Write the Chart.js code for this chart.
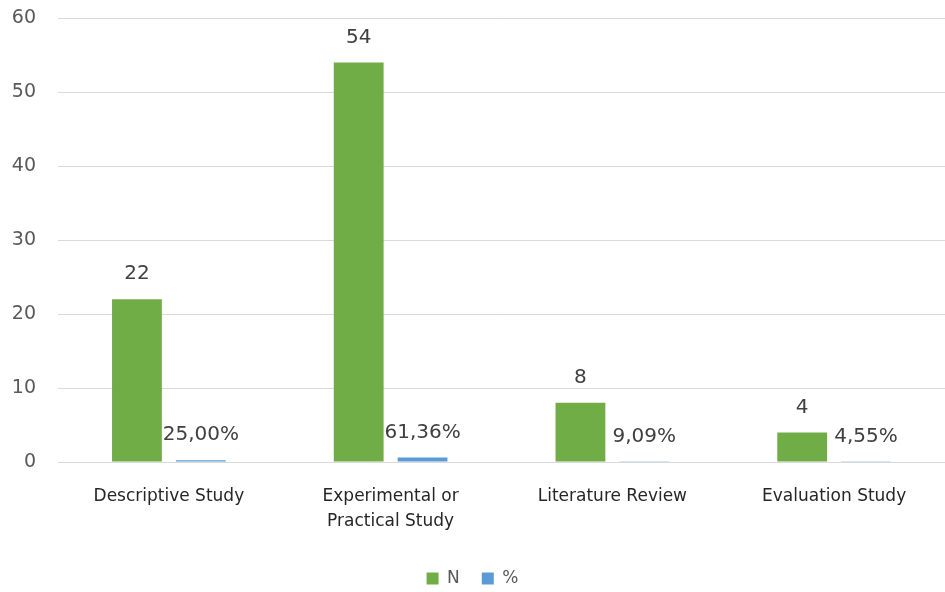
<!DOCTYPE html>
<html>
<head>
<meta charset="utf-8">
<script src="https://cdn.jsdelivr.net/npm/chart.js@4"></script>
<style>
  html, body { margin: 0; padding: 0; background: #fff; }
  #wrap { width: 945px; height: 592px; }
</style>
</head>
<body>
<div id="wrap"><canvas id="studyChart" width="945" height="592"></canvas></div>
<script>
const categories = [['Descriptive Study'], ['Experimental or', 'Practical Study'], ['Literature Review'], ['Evaluation Study']];
const countValues = [22, 54, 8, 4];
const shareValues = [0.25, 0.6136, 0.0909, 0.0455];
const yTicks = [0, 10, 20, 30, 40, 50, 60];

const fmtShare = v => (v * 100).toFixed(2).replace('.', ',') + '%';
const FONT = '"DejaVu Sans", sans-serif';

// draws value labels above each bar
const barLabels = {
    id: 'barLabels',
    afterDatasetsDraw(chart) {
        const ctx = chart.ctx;
        ctx.save();
        ctx.font = '20px ' + FONT;
        ctx.fillStyle = '#404040';
        ctx.textAlign = 'center';
        ctx.textBaseline = 'bottom';
        chart.data.datasets.forEach((ds, i) => {
            const meta = chart.getDatasetMeta(i);
            meta.data.forEach((bar, j) => {
                const text = i === 0 ? String(ds.data[j]) : fmtShare(ds.data[j]);
                ctx.fillText(text, bar.x, bar.y - 15);
            });
        });
        ctx.restore();
    }
};

new Chart(document.getElementById('studyChart'), {
    type: 'bar',
    data: {
        labels: categories,
        datasets: [
            { label: 'N', data: countValues, backgroundColor: '#70ad47', barPercentage: 0.78, categoryPercentage: 0.576 },
            { label: '%', data: shareValues, backgroundColor: '#5b9bd5', barPercentage: 0.78, categoryPercentage: 0.576 }
        ]
    },
    options: {
        responsive: false,
        animation: false,
        layout: { padding: { top: 18, right: 0, bottom: -5, left: 0 } },
        plugins: {
            tooltip: { enabled: false },
            legend: {
                position: 'bottom',
                labels: {
                    boxWidth: 12, boxHeight: 12, padding: 22,
                    color: '#595959',
                    font: { family: FONT, size: 17 }
                }
            }
        },
        scales: {
            x: {
                grid: { display: false },
                border: { color: '#d9d9d9' },
                ticks: {
                    color: '#262626',
                    padding: 14,
                    maxRotation: 0,
                    font: { family: FONT, size: 17, lineHeight: 1.47 }
                }
            },
            y: {
                min: 0, max: 60,
                afterFit(scale) { scale.width = 58; },
                afterBuildTicks(scale) { scale.ticks = yTicks.map(v => ({ value: v })); },
                grid: { color: '#d9d9d9', tickColor: 'transparent', tickLength: 18 },
                border: { display: false },
                ticks: {
                    color: '#595959',
                    padding: 4,
                    font: { family: FONT, size: 19 }
                }
            }
        }
    },
    plugins: [barLabels]
});
</script>
</body>
</html>
